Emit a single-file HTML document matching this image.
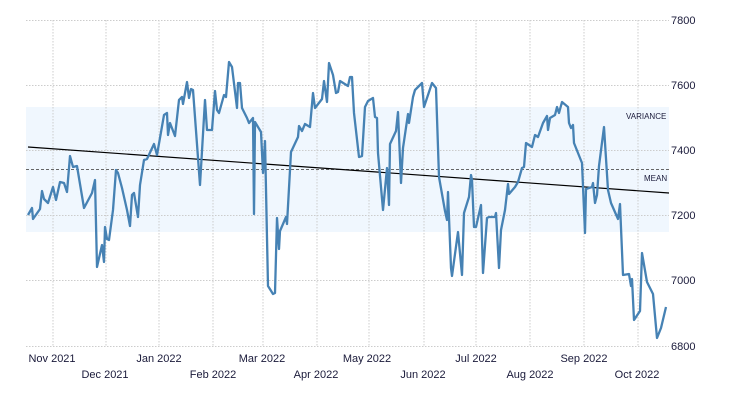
<!DOCTYPE html>
<html><head><meta charset="utf-8"><style>
body{margin:0;background:#fff}
svg text{font-family:"Liberation Sans","DejaVu Sans",sans-serif;fill:#1a1a3a}
</style></head><body>
<svg width="730" height="400" xmlns="http://www.w3.org/2000/svg">
<rect x="26" y="107" width="643" height="125" fill="#f0f7fe"/>
<g stroke="#cccccc" stroke-dasharray="1.5,1.5" stroke-width="1">
<line x1="26" y1="20.5" x2="669" y2="20.5"/><line x1="26" y1="85.5" x2="669" y2="85.5"/>
<line x1="26" y1="150.5" x2="669" y2="150.5"/><line x1="26" y1="215.5" x2="669" y2="215.5"/>
<line x1="26" y1="280.5" x2="669" y2="280.5"/><line x1="26" y1="346.5" x2="669" y2="346.5"/>
<line x1="53" y1="20" x2="53" y2="346"/><line x1="106" y1="20" x2="106" y2="346"/>
<line x1="159" y1="20" x2="159" y2="346"/><line x1="213" y1="20" x2="213" y2="346"/>
<line x1="263" y1="20" x2="263" y2="346"/><line x1="317" y1="20" x2="317" y2="346"/>
<line x1="369" y1="20" x2="369" y2="346"/><line x1="424" y1="20" x2="424" y2="346"/>
<line x1="476" y1="20" x2="476" y2="346"/><line x1="530" y1="20" x2="530" y2="346"/>
<line x1="584" y1="20" x2="584" y2="346"/><line x1="638" y1="20" x2="638" y2="346"/>
</g>
<line x1="26" y1="169.5" x2="669" y2="169.5" stroke="#666" stroke-dasharray="3,2" stroke-width="1"/>
<line x1="28" y1="147" x2="669" y2="193" stroke="#000" stroke-width="1.2"/>
<polyline fill="none" stroke="#4682b4" stroke-width="2.3" stroke-linejoin="round" points="28,215 32,208 33,219 40,209 42,191 44,199 48,203 53,187 56,200 60,182 64,183 67,192 70,156 73,167 77,166 84,208 92,193 95,180 97,267 102,245 104,262 105,227 107,239 109,240 113,210 116,170 118,173 122,188 127,210 130,226 132,195 134,193 138,217 140,185 144,160 147,159 154,144 157,155 164,115 167,113 168,135 170,123 175,136 179,100 182,97 183,104 187,82 189,98 191,89 193,90 200,185 205,100 207,130 212,130 215,91 217,110 219,113 224,95 226,97 229,62 232,67 237,108 238,83 240,83 242,108 247,118 249,123 253,118 254,214 255,122 261,132 263,173 265,141 268,286 273,294 275,293 277,218 279,249 280,231 286,217 287,224 291,152 298,137 299,126 302,131 305,124 310,127 313,93 315,108 322,99 324,81 327,102 329,63 333,75 336,93 338,92 340,81 348,86 350,77 352,77 354,113 359,157 362,156 365,107 368,101 373,98 375,117 377,118 378,153 383,210 387,168 389,205 390,144 396,131 398,112 401,183 403,148 408,114 409,123 413,97 415,90 422,83 424,107 432,83 436,88 439,177 445,211 447,220 448,192 451,268 452,276 458,232 462,275 464,213 469,197 471,175 472,180 474,227 476,227 481,205 483,273 487,218 489,217 495,217 496,213 499,268 501,230 505,210 508,184 509,194 515,187 518,182 522,168 524,167 526,143 532,147 535,135 538,137 543,123 547,116 548,130 550,118 555,115 557,107 559,113 562,102 568,107 569,123 571,128 573,125 574,143 582,163 585,233 586,189 592,187 593,183 595,203 597,195 599,166 604,127 608,190 611,203 618,219 620,204 623,275 629,274 631,286 632,279 634,320 640,311 642,253 647,282 653,294 657,338 661,328 666,307"/>
<g font-size="8"><text x="626" y="119">VARIANCE</text><text x="644" y="181">MEAN</text></g>
<g font-size="11">
<text x="671" y="24">7800</text><text x="671" y="89">7600</text><text x="671" y="154">7400</text>
<text x="671" y="219">7200</text><text x="671" y="284">7000</text><text x="671" y="350">6800</text>
</g>
<g font-size="11" text-anchor="middle">
<text x="52" y="362">Nov 2021</text><text x="159" y="362">Jan 2022</text><text x="262" y="362">Mar 2022</text>
<text x="367" y="362">May 2022</text><text x="476" y="362">Jul 2022</text><text x="584" y="362">Sep 2022</text>
<text x="105" y="378">Dec 2021</text><text x="213" y="378">Feb 2022</text><text x="316" y="378">Apr 2022</text>
<text x="423" y="378">Jun 2022</text><text x="530" y="378">Aug 2022</text><text x="637" y="378">Oct 2022</text>
</g>
</svg>
</body></html>
